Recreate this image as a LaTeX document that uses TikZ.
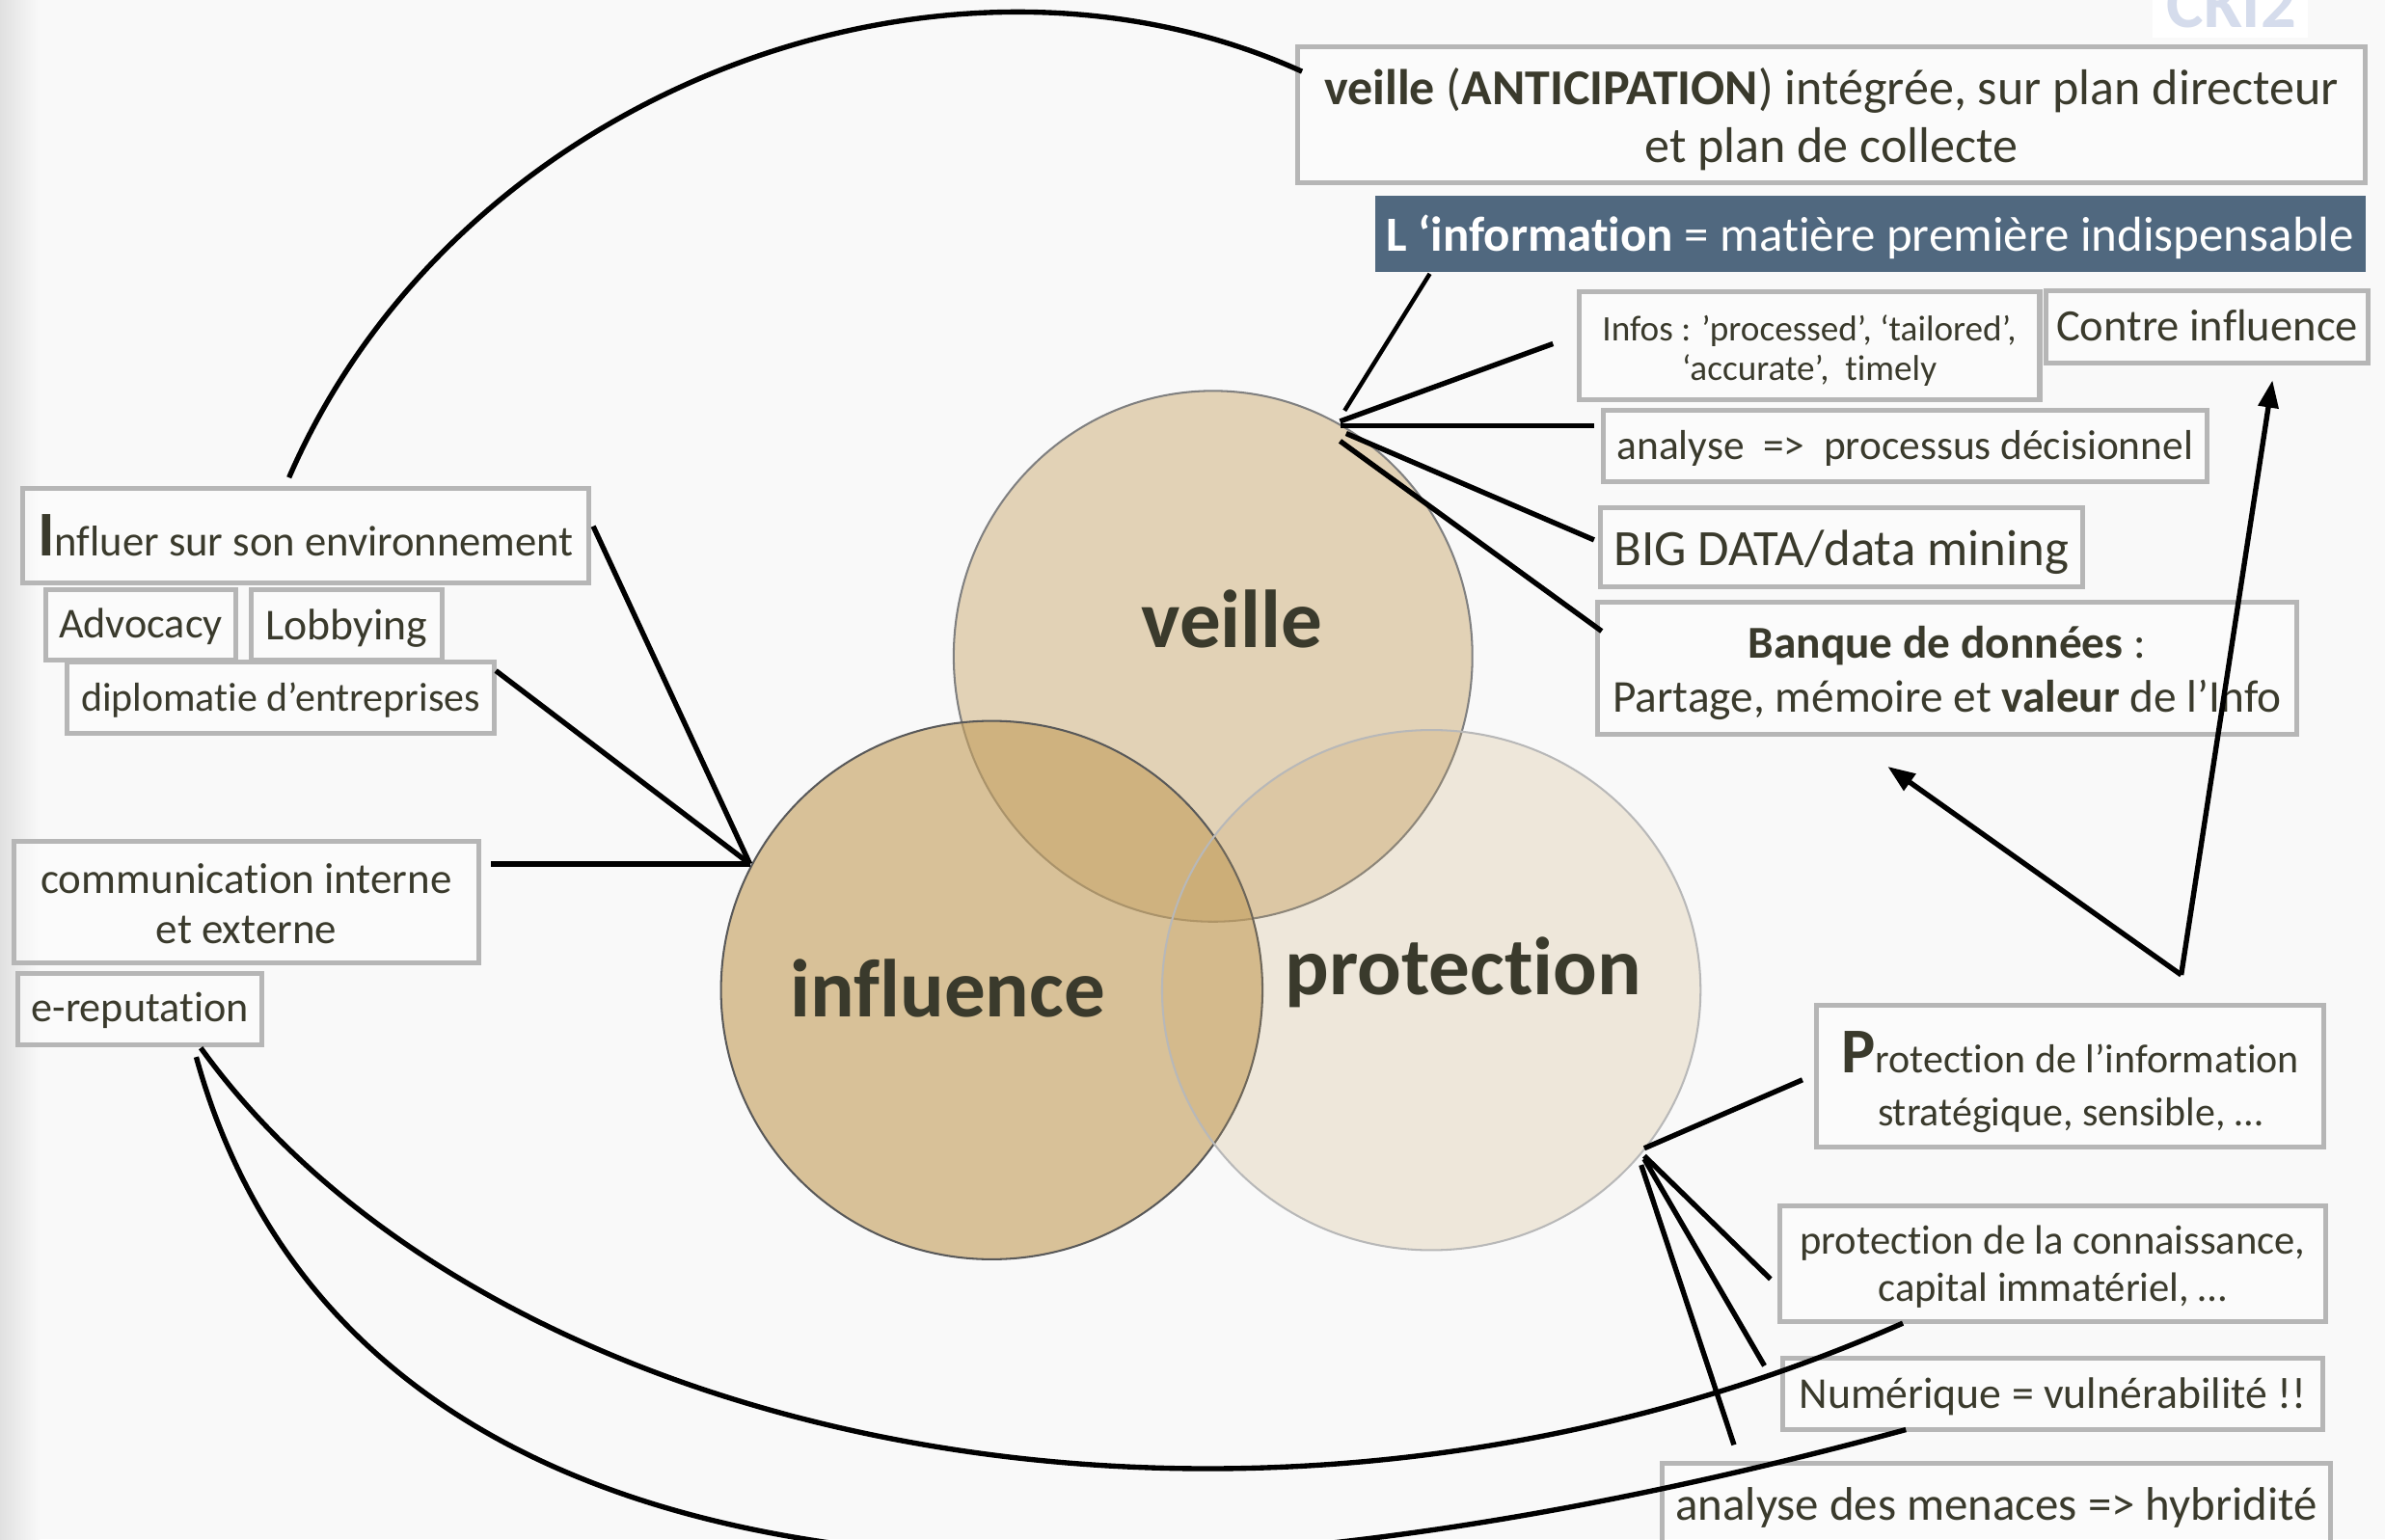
\documentclass[tikz,border=0pt]{standalone}
\usepackage{fontspec}
\setmainfont{Carlito}[Ligatures=NoCommon]
\usetikzlibrary{arrows.meta,shapes.geometric}
\definecolor{bg}{HTML}{F9F9F9}
\definecolor{ink}{HTML}{3A3A2C}
\definecolor{edge}{HTML}{B6B6B6}
\definecolor{tan}{HTML}{C49F5E}
\definecolor{slate}{HTML}{50687F}
\definecolor{logoblue}{HTML}{D5DCEC}
\tikzset{
  box/.style={draw=edge,line width=3.2pt,fill=white,fill opacity=.45,inner sep=0pt},
  boxtext/.style={text=ink,align=center,inner sep=0pt},
  circ/.style={ellipse,draw=#1,line width=1.3pt,inner sep=0pt},
  conn/.style={draw=black,line width=3.4pt},
  thinconn/.style={draw=black,line width=2.8pt},
  arrowconn/.style={conn,-{Triangle[length=18pt,width=13pt]}},
  big/.style={font=\fontsize{54}{54}\selectfont\bfseries,text=ink,inner sep=0pt},
}
\newcommand{\bx}[9]{% name x0 y0 x1 y1 size leading yshift text
  \node[box,minimum width=#4-#2,minimum height=#5-#3] (#1) at ({(#2+#4)/2},{(#3+#5)/2}) {};
  \node[boxtext,font=\fontsize{#6}{#7}\selectfont] (#1t) at ({(#2+#4)/2},{(#3+#5)/2+#8}) {#9};}
\begin{document}
\begin{tikzpicture}[x=1pt,y=-1pt]
\useasboundingbox (0,0) rectangle (1568,1012);
\fill[bg] (0,0) rectangle (1568,1012);
\fill[left color=black!12,right color=bg] (0,0) rectangle (26,1012);
% logo
\node[fill=white,minimum width=102pt,minimum height=25pt,inner sep=0pt] (logo) at (1466,12) {};
\begin{scope}
\clip (1415,0) rectangle (1517,25);
\node[font=\fontsize{46}{46}\selectfont\bfseries,text=logoblue,inner sep=0pt] (logotext) at (1467,3) {CKI2};
\end{scope}
% circles
\node[circ=black!50,minimum width=341pt,minimum height=349pt,fill=tan,fill opacity=.43,draw opacity=1] (veille) at (797.5,431.5) {};
\node[circ=black!65,minimum width=356pt,minimum height=354pt,fill=tan,fill opacity=.62,draw opacity=1] (influence) at (652,651) {};
\node[circ=black!28,minimum width=354pt,minimum height=342pt,fill=tan,fill opacity=.2,draw opacity=1] (protection) at (941,651) {};
\node[big] (tv) at (810,407) {veille};
\node[big] (ti) at (623,650) {influence};
\node[big] (tp) at (962,639) {protection};
% boxes
\bx{b1}{853}{31}{1555}{120}{33}{38}{3}{\textbf{veille} (\textbf{ANTICIPATION}) intégrée, sur plan directeur\\et plan de collecte}
\node[fill=slate,minimum width=651pt,minimum height=50pt,inner sep=0pt] (b2) at (1229.5,154) {};
\node[inner sep=0pt,text=white,font=\fontsize{32.3}{38}\selectfont] (b2t) at (1229.5,156) {\textbf{L ‘information} = matière première indispensable};
\bx{b3}{1038}{192}{1341}{263}{23.6}{26}{3}{Infos : ’processed’, ‘tailored’,\\‘accurate’,\ \ timely}
\bx{b4}{1345}{191}{1557}{239}{29.5}{32}{-1}{Contre influence}
\bx{b5}{1054}{270}{1451}{317}{27.5}{30}{1}{analyse\ \ =>\ \ processus décisionnel}
\bx{b6}{1052}{334}{1369}{386}{33.5}{34}{3}{BIG DATA/data mining}
\bx{b7}{1050}{396}{1510}{483}{30}{36}{3}{\textbf{Banque de données} :\\Partage, mémoire et \textbf{valeur} de l’Info}
\bx{b8}{15}{321}{387}{383}{28.3}{30}{0}{\textbf{\fontsize{42}{42}\selectfont I}nfluer sur son environnement}
\bx{b9}{30}{388}{155}{434}{28}{30}{1}{Advocacy}
\bx{b10}{165}{388}{291}{434}{29}{30}{2}{Lobbying}
\bx{b11}{44}{435}{325}{482}{26.6}{30}{2}{diplomatie d’entreprises}
\bx{b12}{9}{553}{315}{633}{28.5}{33}{1}{communication interne\\et externe}
\bx{b13}{12}{640}{172}{687}{28}{30}{1}{e-reputation}
\bx{b14}{1194}{661}{1528}{754}{26.6}{35}{4}{\textbf{\fontsize{42}{42}\selectfont P}rotection de l’information\\stratégique, sensible, …}
\bx{b15}{1170}{793}{1529}{869}{27}{31}{2}{protection de la connaissance,\\capital immatériel, …}
\bx{b16}{1172}{893}{1527}{940}{29}{30}{2}{Numérique = vulnérabilité !!}
\bx{b17}{1093}{962}{1532}{1030}{31}{32}{3}{\raisebox{21pt}{analyse des menaces => hybridité}}
% connector ends
\coordinate (vh) at (881,277);
\coordinate (vh0) at (884,270);
\coordinate (vh2) at (881,280);
\coordinate (vh3) at (885,285);
\coordinate (vh4) at (881,290);
\coordinate (e2) at (940,180);
\coordinate (e3) at (1021,226);
\coordinate (e5) at (1048,280);
\coordinate (e6) at (1048,355);
\coordinate (e7) at (1053,415);
\coordinate (ih) at (493,568);
\coordinate (e8) at (390,346);
\coordinate (e11) at (326,441);
\coordinate (e12) at (323,568);
\coordinate (ph) at (1081,755);
\coordinate (ph2) at (1081,760);
\coordinate (ph3) at (1081,762);
\coordinate (ph4) at (1079,766);
\coordinate (e14) at (1185,710);
\coordinate (e15) at (1164,841);
\coordinate (e16) at (1160,898);
\coordinate (e17) at (1140,950);
\coordinate (ah) at (1434,641);
\coordinate (a1) at (1241,504);
\coordinate (a2) at (1494,250);
\coordinate (c1s) at (190,314);
\coordinate (c1e) at (856,47);
\coordinate (c2s) at (132,689);
\coordinate (c3s) at (129,695);
\coordinate (c2e) at (1251,870);
\coordinate (c3e) at (1253,940);
% connectors
\draw[thinconn] (vh0) -- (e2);
\draw[conn] (vh) -- (e3);
\draw[conn] (vh2) -- (e5);
\draw[conn] (vh3) -- (e6);
\draw[conn] (vh4) -- (e7);
\draw[conn] (e8) -- (ih);
\draw[conn] (e11) -- (ih);
\draw[conn] (e12) -- (ih);
\draw[conn] (e14) -- (ph);
\draw[conn] (ph2) -- (e15);
\draw[conn] (ph3) -- (e16);
\draw[conn] (ph4) -- (e17);
\draw[arrowconn] (ah) -- (a1);
\draw[arrowconn] (ah) -- (a2);
\draw[conn] (c1s) .. controls (300,60) and (620,-60) .. (c1e);
\draw[conn] (c2s) .. controls (320,950) and (820,1060) .. (c2e);
\draw[conn] (c3s) .. controls (230,1060) and (700,1090) .. (c3e);
\end{tikzpicture}
\end{document}
